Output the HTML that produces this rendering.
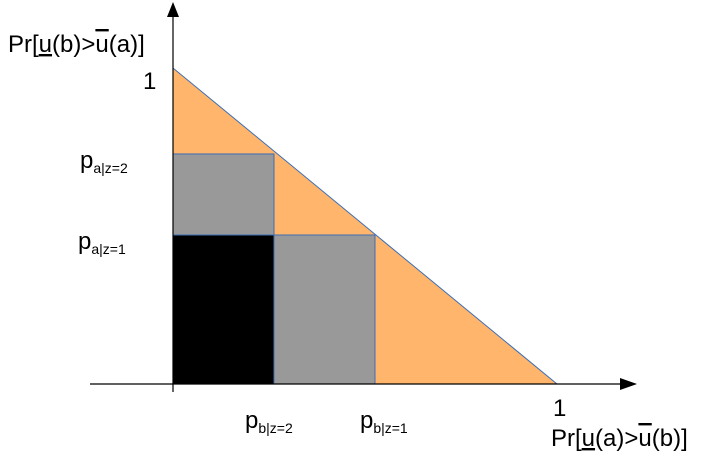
<!DOCTYPE html>
<html><head><meta charset="utf-8"><style>
body{margin:0;background:#fff}
svg{display:block;font-family:"Liberation Sans",sans-serif}
</style></head><body>
<svg id="c" width="706" height="466" viewBox="0 0 706 466" xmlns="http://www.w3.org/2000/svg"></svg>
<script>
const pbValues=[0.263,0.526];
const paValues=[0.4715,0.728];
const pbLabels=["b|z=2","b|z=1"];
const paLabels=["a|z=1","a|z=2"];
const X0=173,Y0=384,W=384,H=316;
const sx=v=>X0+v*W, sy=v=>Y0-v*H;
const svg=document.getElementById('c');
const NS='http://www.w3.org/2000/svg';
function mk(t,a,p){const e=document.createElementNS(NS,t);for(const k in a)e.setAttribute(k,a[k]);(p||svg).appendChild(e);return e;}
let e;
e=mk('polygon',{points:`${sx(0)},${sy(1)} ${sx(0)},${sy(0)} ${sx(1)},${sy(0)}`,fill:'#ffb56b',stroke:'#3c6eb4','stroke-width':1});


e=mk('rect',{x:sx(0),y:sy(paValues[1]),width:sx(pbValues[0])-sx(0),height:sy(0)-sy(paValues[1]),fill:'#999',stroke:'#3c6eb4','stroke-width':1});


e=mk('rect',{x:sx(0),y:sy(paValues[0]),width:sx(pbValues[1])-sx(0),height:sy(0)-sy(paValues[0]),fill:'#999',stroke:'#3c6eb4','stroke-width':1});


e=mk('rect',{x:sx(0),y:sy(paValues[0]),width:sx(pbValues[0])-sx(0),height:sy(0)-sy(paValues[0]),fill:'#000',stroke:'#3c6eb4','stroke-width':1});


e=mk('line',{x1:90,y1:384,x2:622,y2:384,stroke:'#000','stroke-width':1.2});


e=mk('polygon',{points:'637,384 620,378 620,390',fill:'#000'});


e=mk('line',{x1:173,y1:392,x2:173,y2:16,stroke:'#000','stroke-width':1.2});


e=mk('polygon',{points:'173,2 167,17 179,17',fill:'#000'});


function txt(x,y,html,name,size){const t=mk('text',{x:x,y:y,'font-size':size||24,fill:'#000'});t.innerHTML=html;return t;}
txt(8,52,'Pr[<tspan text-decoration="underline">u</tspan>(b)&gt;<tspan text-decoration="overline">u</tspan>(a)]','y-axis-title');
txt(143,89,'1','y-tick-1');
txt(551,446,'Pr[<tspan text-decoration="underline">u</tspan>(a)&gt;<tspan text-decoration="overline">u</tspan>(b)]','x-axis-title');
txt(553,416,'1','x-tick-1');
const paX=[78,80];
paValues.forEach((v,i)=>{txt(paX[i],sy(v)+14,'p<tspan font-size="14" dy="5">'+paLabels[i]+'</tspan>','pa-label-'+i);});
const pbOff=[-29,-15];
pbValues.forEach((v,i)=>{txt(sx(v)+pbOff[i],428,'p<tspan font-size="14" dy="5">'+pbLabels[i]+'</tspan>','pb-label-'+i);});
</script>
</body></html>
